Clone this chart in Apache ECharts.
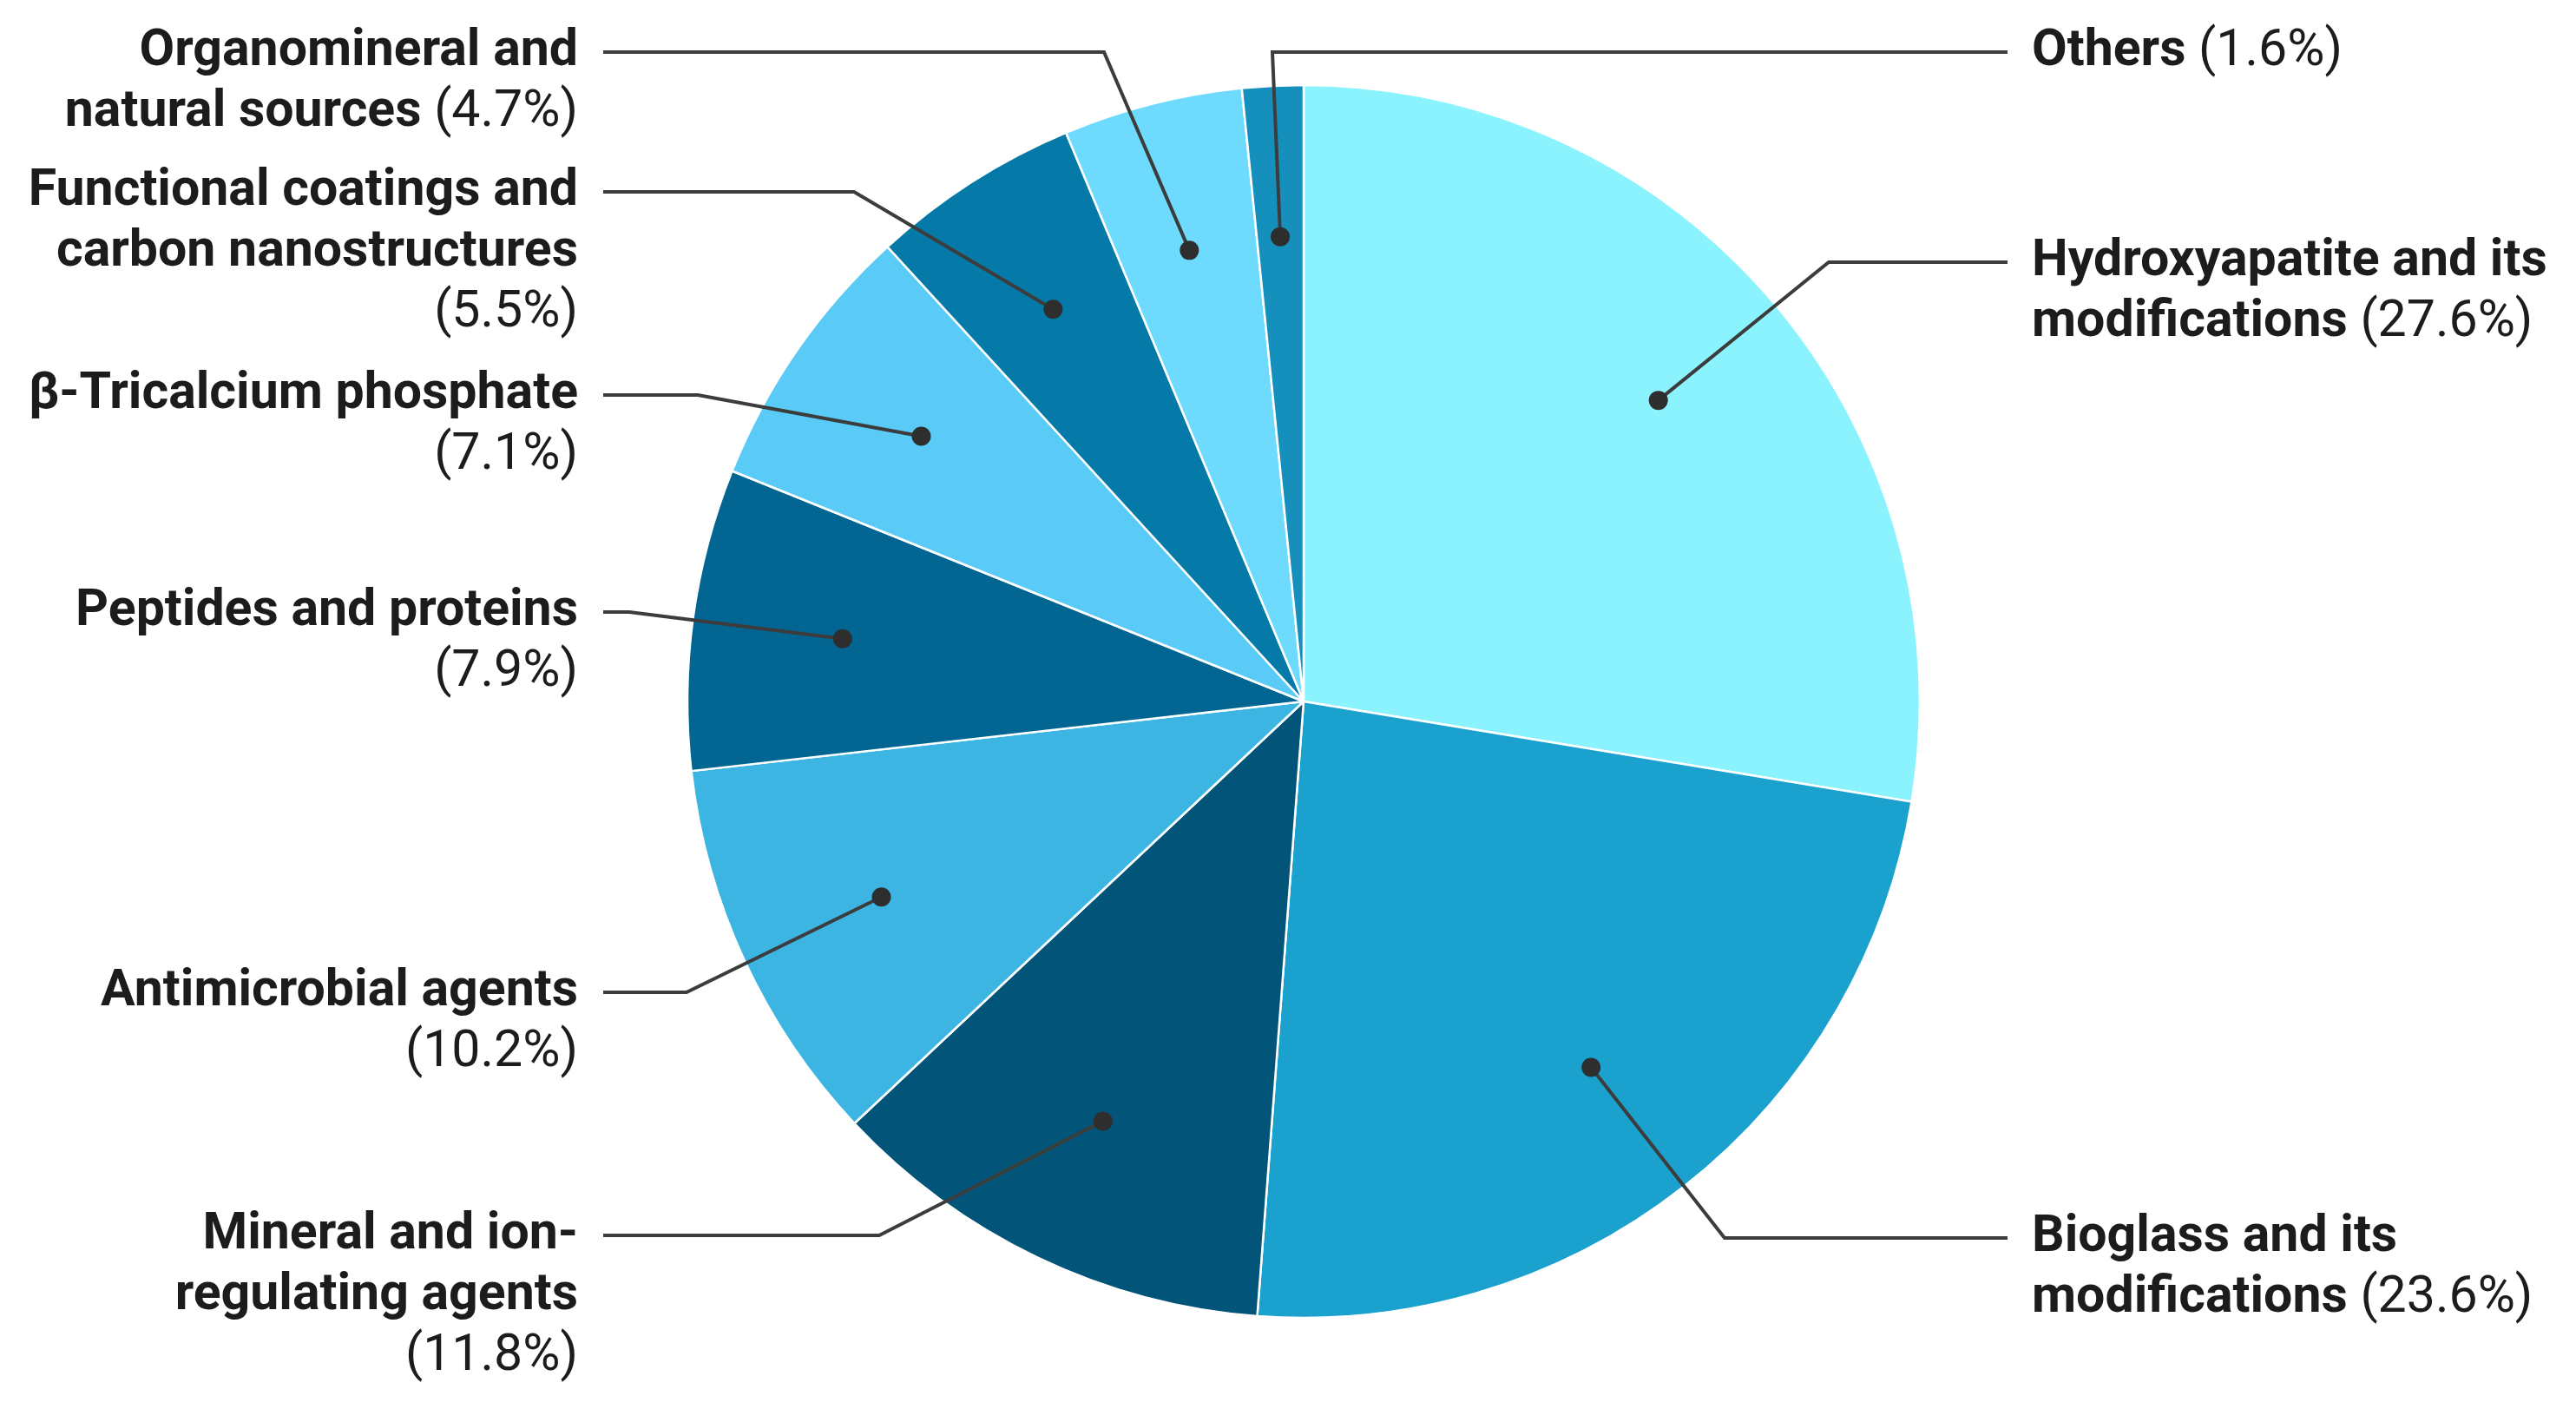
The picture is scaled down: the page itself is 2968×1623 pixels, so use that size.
<!DOCTYPE html>
<html><head><meta charset="utf-8">
<script src="https://cdn.jsdelivr.net/npm/echarts@6/dist/echarts.min.js"></script>
<style>html,body{margin:0;padding:0;background:#fff}#c{width:2968px;height:1623px}</style>
</head><body><div id="c"></div>
<script>
// ---- data ----
const categories = [
  'Hydroxyapatite and its modifications',
  'Bioglass and its modifications',
  'Mineral and ion-regulating agents',
  'Antimicrobial agents',
  'Peptides and proteins',
  'β-Tricalcium phosphate',
  'Functional coatings and carbon nanostructures',
  'Organomineral and natural sources',
  'Others'
];
const values = [27.6, 23.6, 11.8, 10.2, 7.9, 7.1, 5.5, 4.7, 1.6];
// how the label text wraps; flag = percentage on same line as last name line
const labelNameLines = [
  ['Hydroxyapatite and its', 'modifications'],
  ['Bioglass and its', 'modifications'],
  ['Mineral and ion-', 'regulating agents'],
  ['Antimicrobial agents'],
  ['Peptides and proteins'],
  ['β-Tricalcium phosphate'],
  ['Functional coatings and', 'carbon nanostructures'],
  ['Organomineral and', 'natural sources'],
  ['Others']
];
const pctSameLine = [true, true, false, false, false, false, false, true, true];

// ---- styles / layout ----
const colors = ['#8AF3FE', '#1BA1CE', '#035479', '#3DB5E3', '#036591', '#5ACAF6', '#0579A7', '#6EDBFE', '#1590BD'];
const CX = 1502, CY = 808, R = 710, DOT_R = 0.755;
const labelSide = ['R', 'R', 'L', 'L', 'L', 'L', 'L', 'L', 'R'];
const labelY = [302, 1426, 1423, 1143, 705, 455, 221, 60, 60];   // centre of first text line
const elbowX = [2107, 1987, 1013, 791, 725, 804, 984, 1272, 1466];
const TEXT_R_X = 2341, LINE_R_X = 2313, TEXT_L_X = 666, LINE_L_X = 695;
const LINE_H = 70, FONT = 59;

const total = values.reduce((a, b) => a + b, 0);
const mids = [];
let acc = 0;
values.forEach(v => { mids.push(acc + v / 2); acc += v; });

function labelText(i) {
  const s = labelSide[i];
  const n = 'n' + s, p = 'p' + s;
  const lines = labelNameLines[i].map(t => '{' + n + '|' + t + '}');
  const pct = '(' + values[i].toFixed(1) + '%)';
  if (pctSameLine[i]) {
    lines[lines.length - 1] += '{' + p + '| ' + pct + '}';
  } else {
    lines.push('{' + p + '|' + pct + '}');
  }
  return lines.join('\n');
}

const fam = 'Roboto, "Noto Sans", sans-serif';
const rich = {
  nL: { fontFamily: fam, fontSize: FONT, fontWeight: 'bold', color: '#1c1c1c', lineHeight: LINE_H, align: 'right' },
  pL: { fontFamily: fam, fontSize: FONT, fontWeight: 'normal', color: '#1c1c1c', lineHeight: LINE_H, align: 'right' },
  nR: { fontFamily: fam, fontSize: FONT, fontWeight: 'bold', color: '#1c1c1c', lineHeight: LINE_H, align: 'left' },
  pR: { fontFamily: fam, fontSize: FONT, fontWeight: 'normal', color: '#1c1c1c', lineHeight: LINE_H, align: 'left' }
};

const chart = echarts.init(document.getElementById('c'));
chart.setOption({
  backgroundColor: '#ffffff',
  animation: false,
  polar: { center: [CX, CY], radius: R },
  angleAxis: { type: 'value', min: 0, max: total, startAngle: 90, clockwise: true, show: false },
  radiusAxis: { type: 'value', min: 0, max: 1, show: false },
  series: [
    {
      type: 'pie',
      center: [CX, CY],
      radius: [0, R],
      startAngle: 90,
      clockwise: true,
      avoidLabelOverlap: false,
      itemStyle: { borderColor: '#ffffff', borderWidth: 2.5 },
      data: categories.map((c, i) => ({
        name: c, value: values[i],
        itemStyle: { color: colors[i] },
        label: { formatter: labelText(i) }
      })),
      label: { show: true, position: 'outside', rich: rich },
      labelLine: { show: false },
      labelLayout: function (params) {
        const i = params.dataIndex;
        const right = labelSide[i] === 'R';
        return {
          x: right ? TEXT_R_X : TEXT_L_X,
          y: labelY[i] - LINE_H / 2,
          align: right ? 'left' : 'right',
          verticalAlign: 'top'
        };
      },
      emphasis: { disabled: true }
    },
    {
      // leader lines + dots, anchored in the slices through the polar scales
      type: 'custom',
      coordinateSystem: 'polar',
      z: 10,
      silent: true,
      data: mids.map(m => [DOT_R, m]),
      renderItem: function (params, api) {
        const i = params.dataIndex;
        const d = api.coord([api.value(0), api.value(1)]);
        const right = labelSide[i] === 'R';
        const yc = labelY[i];
        return {
          type: 'group',
          children: [
            {
              type: 'polyline',
              shape: { points: [d, [elbowX[i], yc], [right ? LINE_R_X : LINE_L_X, yc]] },
              style: { stroke: '#3c3c3c', lineWidth: 4, fill: null }
            },
            {
              type: 'circle',
              shape: { cx: d[0], cy: d[1], r: 11 },
              style: { fill: '#2e2e2e' }
            }
          ]
        };
      }
    }
  ]
});
</script></body></html>
